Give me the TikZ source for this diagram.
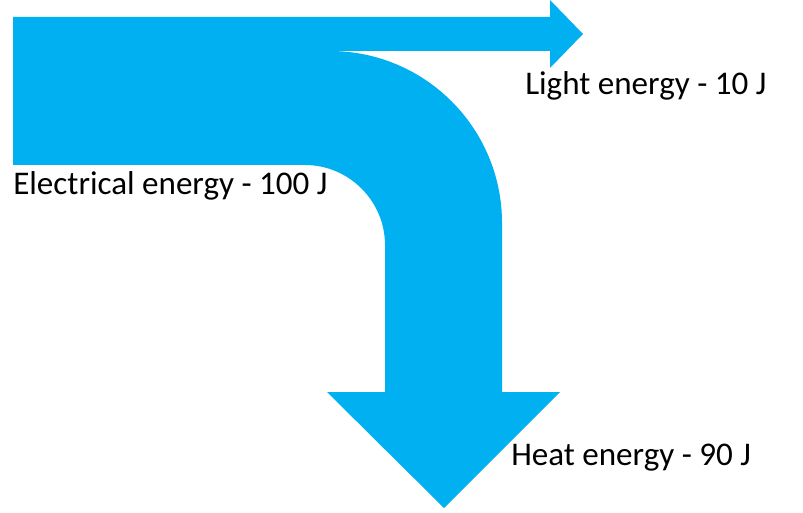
\documentclass[tikz,border=0pt]{standalone}
\usepackage{fontspec}
\usepackage{tikz}
\usepackage{xcolor}
\setmainfont{Carlito}
\usetikzlibrary{positioning}
\definecolor{flow}{RGB}{0, 176, 240}
\tikzstyle{band} = [
    fill=flow,
    draw=none
]
\tikzstyle{label} = [
    anchor=base west,
    inner sep=0pt,
    text=black,
    font=\fontsize{24.8}{30}\selectfont
]

\begin{document}
\begin{tikzpicture}[x=0.75pt, y=-0.75pt]
    \useasboundingbox (0,0) rectangle (803,513);
    % energy flows
    \fill[band] (13,17) -- (550,17) -- (550,0) -- (583,34) -- (550,68) -- (550,51)
        -- (330,51) .. controls (425,51) and (502,128) .. (502,223)
        -- (502,392) -- (560,392) -- (444,508) -- (327,392) -- (385,392)
        -- (385,245) .. controls (385,201) and (349,165) .. (305,165)
        -- (13,165) -- cycle;
    % labels
    \node[label] (electrical) at (13,195) {Electrical energy - 100 J};
    \node[label] (light) at (525,95) {Light energy - 10 J};
    \node[label] (heat) at (511,465) {Heat energy - 90 J};
\end{tikzpicture}
\end{document}
